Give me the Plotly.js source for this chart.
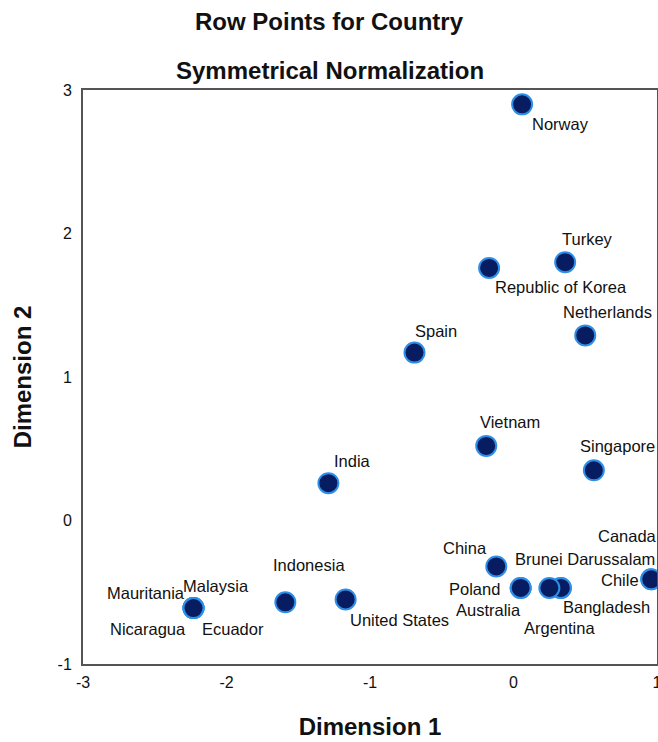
<!DOCTYPE html>
<html>
<head>
<meta charset="utf-8">
<script src="https://cdn.plot.ly/plotly-3.0.1.min.js"></script>
<style>html,body{margin:0;padding:0;background:#fff;}#chart{width:658px;height:742px;}</style>
</head>
<body>
<div id="chart"></div>
<script>
// Data
var countries = ["Norway","Turkey","Republic of Korea","Netherlands","Spain","Vietnam","Singapore","India","China","Chile","Canada","Brunei Darussalam","Bangladesh","Argentina","Poland","Australia","United States","Indonesia","Malaysia","Mauritania","Nicaragua","Ecuador"];
var dim1 = [0.06, 0.36, -0.17, 0.50, -0.69, -0.19, 0.56, -1.29, -0.12, 0.96, 0.96, 0.33, 0.33, 0.25, 0.05, 0.05, -1.17, -1.59, -2.23, -2.23, -2.23, -2.23];
var dim2 = [2.90, 1.80, 1.76, 1.29, 1.17, 0.52, 0.35, 0.26, -0.32, -0.41, -0.41, -0.47, -0.47, -0.47, -0.47, -0.47, -0.55, -0.57, -0.61, -0.61, -0.61, -0.61];
var xTicks = [-3, -2, -1, 0, 1];
var yTicks = [-1, 0, 1, 2, 3];

// Label offsets (pixels, label centre relative to point)
var labelDx = [38, 22, 72, 22, 22, 24, 24, 24, -31, -31, -24, 24, 46, 10, -46, -32, 54, 24, 22, -48, -46, 39];
var labelDy = [20, -23, 19, -23, -22, -24, -24, -22, -18, 1, -43, -29, 19, 40, 1, 22, 21, -37, -22, -15, 21, 21];

var FONT = 'Liberation Sans, Arial, sans-serif';
var trace = {
  x: dim1, y: dim2, type: 'scatter', mode: 'markers',
  marker: {size: 20, color: '#081c62', line: {color: '#2e8fe6', width: 2}},
  hoverinfo: 'text', text: countries
};

var annotations = countries.map(function(c, i) {
  return {x: dim1[i], y: dim2[i], xref: 'x', yref: 'y', text: c, showarrow: false,
    xanchor: 'center', yanchor: 'middle', xshift: labelDx[i], yshift: -labelDy[i],
    font: {family: FONT, size: 16.5, color: '#111'}};
});
annotations.push({xref: 'paper', yref: 'paper', x: (330 - 83) / 574, y: (664 - 70) / 574, xanchor: 'center', yanchor: 'middle',
  text: '<b>Symmetrical Normalization</b>', showarrow: false,
  font: {family: FONT, size: 24, color: '#111'}});

var layout = {
  width: 658, height: 742,
  margin: {l: 83, r: 1, t: 90, b: 78},
  paper_bgcolor: '#fff', plot_bgcolor: '#fff',
  showlegend: false,
  title: {text: '<b>Row Points for Country</b>', x: 0.5, xref: 'container', y: 1 - 22/742, yref: 'container', yanchor: 'middle',
    font: {family: FONT, size: 24, color: '#111'}},
  xaxis: {range: [-3, 1], tickvals: xTicks, ticktext: xTicks.map(String), showgrid: false, zeroline: false,
    showline: true, mirror: true, linecolor: '#555', linewidth: 2, ticks: '', ticklabelstandoff: 3, ticklabeloverflow: 'allow',
    tickfont: {family: FONT, size: 16, color: '#111'},
    title: {text: '<b>Dimension 1</b>', standoff: 28, font: {family: FONT, size: 24, color: '#111'}}},
  yaxis: {range: [-1, 3], tickvals: yTicks, ticktext: yTicks.map(String), showgrid: false, zeroline: false,
    showline: true, mirror: true, linecolor: '#555', linewidth: 2, ticks: '', ticklabelstandoff: 6, ticklabeloverflow: 'allow',
    tickfont: {family: FONT, size: 16, color: '#111'},
    title: {text: '<b>Dimension 2</b>', standoff: 19, font: {family: FONT, size: 24, color: '#111'}}},
  annotations: annotations
};

Plotly.newPlot('chart', [trace], layout, {displayModeBar: false, staticPlot: true});
</script>
</body>
</html>
